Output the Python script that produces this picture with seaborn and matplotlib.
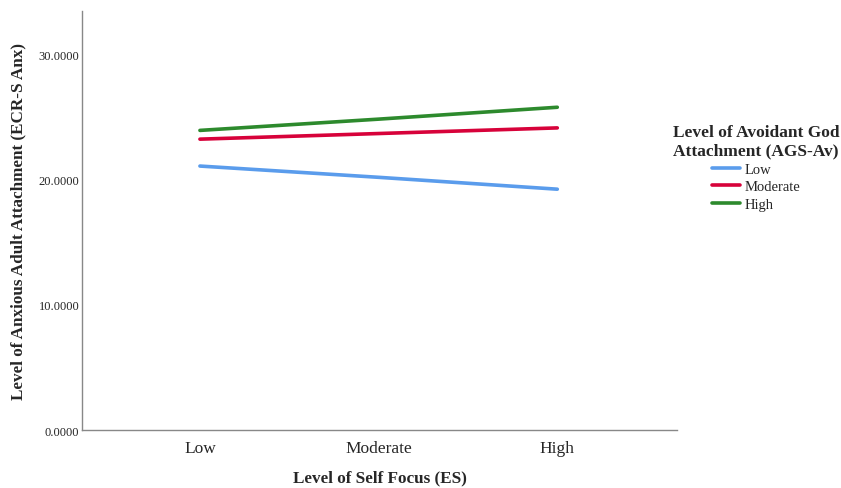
import pandas as pd
import matplotlib.pyplot as plt
import seaborn as sns

# values
self_focus = ['Low', 'Moderate', 'High']
god_levels = ['Low', 'Moderate', 'High']
low_god = [21.1, 20.2, 19.25]
moderate_god = [23.25, 23.7, 24.15]
high_god = [23.95, 24.85, 25.8]

df = pd.DataFrame({
    'ES': self_focus * 3,
    'AGS': [g for g in god_levels for _ in self_focus],
    'Anx': low_god + moderate_god + high_god,
})
df['x'] = df['ES'].map({k: i for i, k in enumerate(self_focus)})

sns.set_style('white')
plt.rcParams['font.family'] = ['Liberation Serif', 'DejaVu Serif']

fig = plt.figure(figsize=(8.41, 4.89), dpi=100)
ax = fig.add_axes([0.0975, 0.1186, 0.7075, 0.857])

palette = {'Low': '#5a9cec', 'Moderate': '#d7023a', 'High': '#2d8a2d'}
sns.lineplot(data=df, x='x', y='Anx', hue='AGS', hue_order=god_levels,
             palette=palette, linewidth=2.6, ax=ax)

ax.set_xlim(-0.66, 2.67)
ax.set_ylim(0, 33.5)
ax.set_xticks(range(len(self_focus)))
ax.set_xticklabels(self_focus, fontsize=12.5)
ax.set_yticks([0, 10, 20, 30])
ax.set_yticklabels(['0.0000', '10.0000', '20.0000', '30.0000'], fontsize=9)
ax.tick_params(axis='x', length=0, pad=7)
ax.tick_params(axis='y', length=0, pad=2)
ax.set_xlabel('Level of Self Focus (ES)', fontsize=12.3, fontweight='bold', labelpad=10)
ax.set_ylabel('Level of Anxious Adult Attachment (ECR-S Anx)', fontsize=12.3,
              fontweight='bold', labelpad=9)
for s in ['top', 'right']:
    ax.spines[s].set_visible(False)
for s in ['left', 'bottom']:
    ax.spines[s].set_color('#888888')
    ax.spines[s].set_linewidth(1.0)

leg = ax.legend(title='Level of Avoidant God\nAttachment (AGS-Av)', frameon=False,
                loc='center', bbox_to_anchor=(1.133, 0.627), fontsize=10.5,
                title_fontproperties={'weight': 'bold', 'size': 12.5},
                alignment='center', handlelength=1.9, handletextpad=0.3,
                labelspacing=0.3)
leg.get_title().set_multialignment('center')

fig.savefig('out.png', dpi=100)
